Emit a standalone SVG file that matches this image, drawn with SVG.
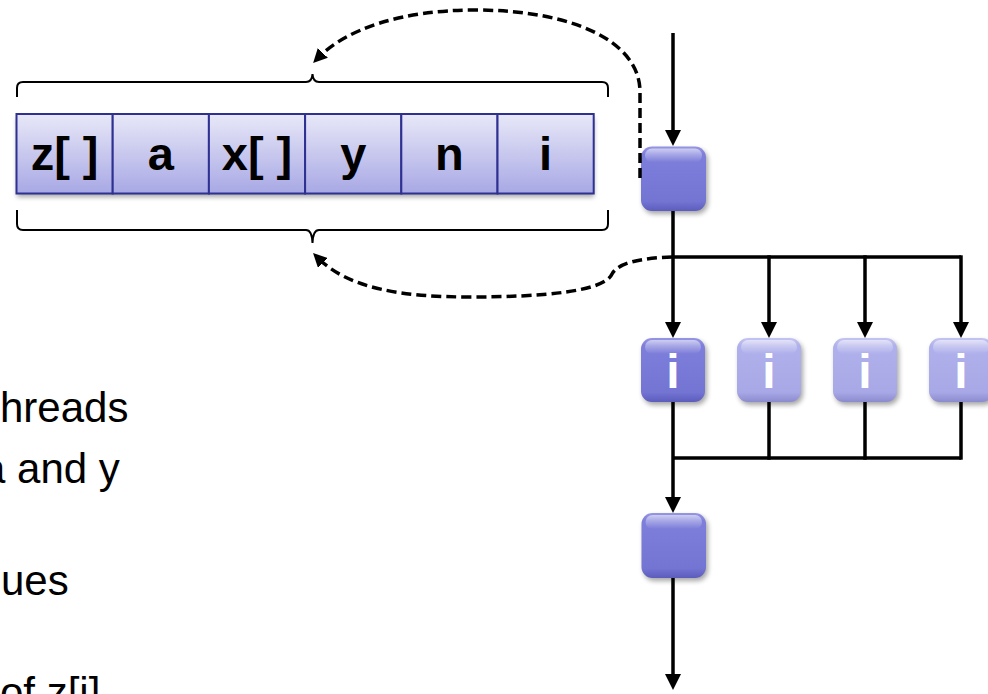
<svg xmlns="http://www.w3.org/2000/svg" width="988" height="694" viewBox="0 0 988 694">
  <defs>
    <linearGradient id="cellFill" x1="0" y1="0" x2="0" y2="1">
      <stop offset="0" stop-color="#e8e8f8"/>
      <stop offset="1" stop-color="#a8a8e5"/>
    </linearGradient>
    <linearGradient id="darkFill" x1="0" y1="0" x2="0" y2="1">
      <stop offset="0" stop-color="#9696e4"/>
      <stop offset="0.12" stop-color="#7e7edb"/>
      <stop offset="0.85" stop-color="#7474d3"/>
      <stop offset="1" stop-color="#5c5cbd"/>
    </linearGradient>
    <linearGradient id="lightFill" x1="0" y1="0" x2="0" y2="1">
      <stop offset="0" stop-color="#c4c4f3"/>
      <stop offset="0.12" stop-color="#b0b0ec"/>
      <stop offset="0.85" stop-color="#a8a8e6"/>
      <stop offset="1" stop-color="#8a8acf"/>
    </linearGradient>
    <linearGradient id="gloss" x1="0" y1="0" x2="0" y2="1">
      <stop offset="0" stop-color="#ffffff" stop-opacity="0.55"/>
      <stop offset="1" stop-color="#ffffff" stop-opacity="0"/>
    </linearGradient>
    <filter id="soft" x="-20%" y="-20%" width="140%" height="150%">
      <feGaussianBlur stdDeviation="2.5"/>
    </filter>
    <marker id="head" markerUnits="userSpaceOnUse" markerWidth="16" markerHeight="16" refX="8" refY="8" orient="auto">
      <path d="M0,0 L16,8 L0,16 Z" fill="#000"/>
    </marker>
    <marker id="headSmall" markerUnits="userSpaceOnUse" markerWidth="14" markerHeight="14" refX="7" refY="7" orient="auto">
      <path d="M0,0 L14,7 L0,14 Z" fill="#000"/>
    </marker>
  </defs>
  <style>
    .cell { fill: url(#cellFill); stroke: #2e3192; stroke-width: 2; }
    .cellText { font-family: "Liberation Sans", Arial, sans-serif; font-weight: bold; font-size: 47px; fill: #000; text-anchor: middle; }
    .note { font-family: "Liberation Sans", Arial, sans-serif; font-size: 42px; fill: #000; }
    .brace { fill: none; stroke: #000; stroke-width: 2; }
    .flow { fill: none; stroke: #000; stroke-width: 3.5; }
    .flowArrow { fill: none; stroke: #000; stroke-width: 3.5; marker-end: url(#head); }
    .dashArrow { fill: none; stroke: #000; stroke-width: 3.5; stroke-dasharray: 10 5; marker-end: url(#headSmall); }
    .shadow { fill: #000; opacity: 0.35; filter: url(#soft); }
    .dark { fill: url(#darkFill); }
    .light { fill: url(#lightFill); }
    .shine { fill: url(#gloss); }
    .boxText { font-family: "Liberation Sans", Arial, sans-serif; font-weight: bold; font-size: 48px; fill: #fff; text-anchor: middle; }
  </style>

  <!-- variable storage row -->
  <g id="storage">
    <rect x="17" y="118" width="577" height="79" class="shadow" opacity="0.3"/>
    <g id="cell-z">
      <rect x="16.5" y="114" width="96.2" height="79.5" class="cell"/>
      <text x="64.6" y="170" class="cellText">z[ ]</text>
    </g>
    <g id="cell-a">
      <rect x="112.7" y="114" width="96.2" height="79.5" class="cell"/>
      <text x="160.8" y="170" class="cellText">a</text>
    </g>
    <g id="cell-x">
      <rect x="208.9" y="114" width="96.2" height="79.5" class="cell"/>
      <text x="257" y="170" class="cellText">x[ ]</text>
    </g>
    <g id="cell-y">
      <rect x="305.1" y="114" width="96.2" height="79.5" class="cell"/>
      <text x="353.2" y="170" class="cellText">y</text>
    </g>
    <g id="cell-n">
      <rect x="401.3" y="114" width="96.2" height="79.5" class="cell"/>
      <text x="449.4" y="170" class="cellText">n</text>
    </g>
    <g id="cell-i">
      <rect x="497.5" y="114" width="96.2" height="79.5" class="cell"/>
      <text x="545.6" y="170" class="cellText">i</text>
    </g>
  </g>

  <!-- braces above and below the row -->
  <g id="braces">
    <path class="brace" d="M17,97 L17,88 Q17,82 23,82 L306,82 Q312,82 312.5,74 Q313,82 319,82 L602,82 Q608,82 608,88 L608,97"/>
    <path class="brace" d="M17,210 L17,224 Q17,230 23,230 L306,230 Q312,230 312.5,243 Q313,230 319,230 L602,230 Q608,230 608,224 L608,210"/>
  </g>

  <!-- side notes -->
  <g id="notes">
    <text x="0" y="422" class="note">hreads</text>
    <text x="-18" y="483" class="note">a and y</text>
    <text x="1" y="595" class="note">ues</text>
    <text x="0" y="707" class="note">of z[i]</text>
  </g>

  <!-- master thread before the fork -->
  <g id="master-start">
    <rect x="643" y="149.5" width="65" height="64.5" rx="11" class="shadow"/>
    <rect x="641" y="146.5" width="65" height="64.5" rx="11" class="dark"/>
    <rect x="645" y="148.5" width="57" height="14" rx="7" class="shine"/>
  </g>

  <!-- worker threads -->
  <g id="thread-0">
    <rect x="643" y="341" width="64" height="64" rx="11" class="shadow"/>
    <rect x="641" y="338" width="64" height="64" rx="11" class="dark"/>
    <rect x="645" y="340" width="56" height="14" rx="7" class="shine"/>
    <text x="673" y="388" class="boxText">i</text>
  </g>
  <g id="thread-1">
    <rect x="739" y="341" width="64" height="64" rx="11" class="shadow"/>
    <rect x="737" y="338" width="64" height="64" rx="11" class="light"/>
    <rect x="741" y="340" width="56" height="14" rx="7" class="shine"/>
    <text x="769" y="388" class="boxText">i</text>
  </g>
  <g id="thread-2">
    <rect x="835" y="341" width="64" height="64" rx="11" class="shadow"/>
    <rect x="833" y="338" width="64" height="64" rx="11" class="light"/>
    <rect x="837" y="340" width="56" height="14" rx="7" class="shine"/>
    <text x="865" y="388" class="boxText">i</text>
  </g>
  <g id="thread-3">
    <rect x="931" y="341" width="64" height="64" rx="11" class="shadow"/>
    <rect x="929" y="338" width="64" height="64" rx="11" class="light"/>
    <rect x="933" y="340" width="56" height="14" rx="7" class="shine"/>
    <text x="961" y="388" class="boxText">i</text>
  </g>

  <!-- master thread after the join -->
  <g id="master-end">
    <rect x="643.5" y="516" width="64.5" height="65" rx="11" class="shadow"/>
    <rect x="641.5" y="513" width="64.5" height="65" rx="11" class="dark"/>
    <rect x="645.5" y="515" width="56.5" height="14" rx="7" class="shine"/>
  </g>

  <!-- connectors -->
  <g id="connectors">
    <!-- entry into the master thread -->
    <line class="flowArrow" x1="673" y1="33" x2="673" y2="138"/>
    <!-- fork -->
    <line class="flowArrow" x1="673" y1="211" x2="673" y2="330"/>
    <polyline class="flow" points="673,257 961,257"/>
    <line class="flowArrow" x1="769" y1="255.3" x2="769" y2="330"/>
    <line class="flowArrow" x1="865" y1="255.3" x2="865" y2="330"/>
    <line class="flowArrow" x1="961" y1="255.3" x2="961" y2="330"/>
    <!-- join -->
    <line class="flow" x1="769" y1="402" x2="769" y2="459.7"/>
    <line class="flow" x1="865" y1="402" x2="865" y2="459.7"/>
    <line class="flow" x1="961" y1="402" x2="961" y2="459.7"/>
    <polyline class="flow" points="673,458 961,458"/>
    <line class="flowArrow" x1="673" y1="402" x2="673" y2="505"/>
    <!-- exit -->
    <line class="flowArrow" x1="673" y1="578" x2="673" y2="682"/>
    <!-- shared data handed to the threads and back -->
    <path class="dashArrow" d="M640,178 L640,92 C640,40 570,10 475,10 C400,10 345,30 318,58"/>
    <path class="dashArrow" d="M672,257 C640,258 618,263 612,274 C604,292 540,297 470,297 C400,297 348,288 318,258"/>
  </g>
</svg>
